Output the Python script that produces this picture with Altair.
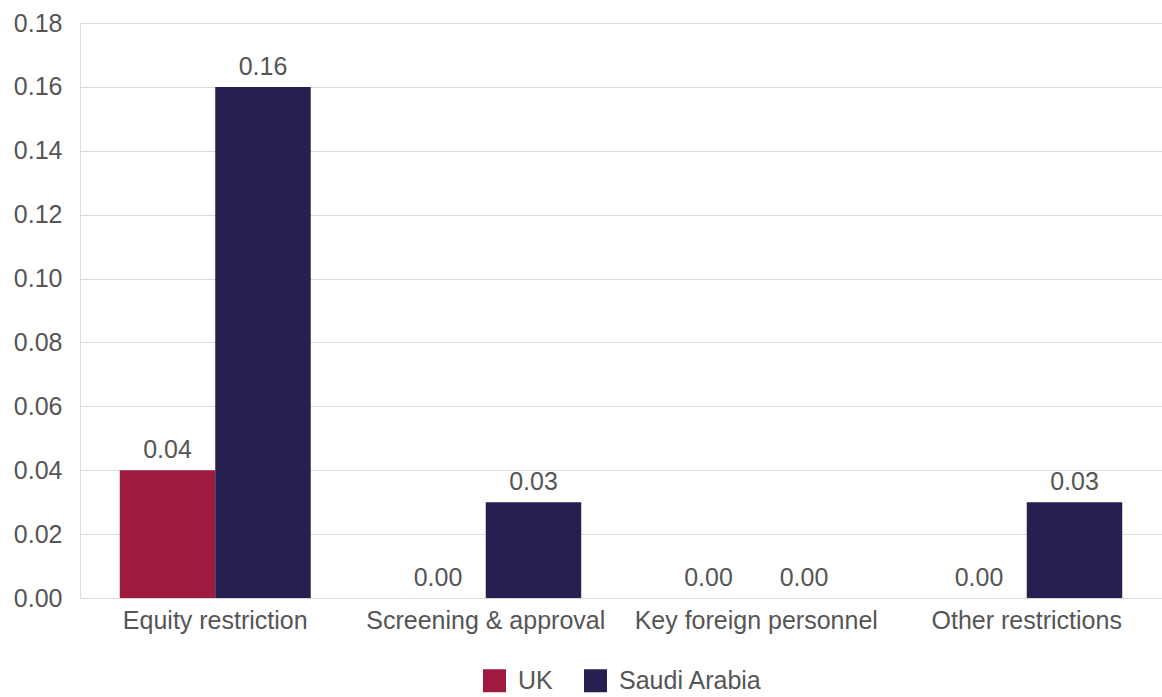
import altair as alt
import pandas as pd

categories = ["Equity restriction", "Screening & approval", "Key foreign personnel", "Other restrictions"]
series = ["UK", "Saudi Arabia"]
uk_values = [0.04, 0.00, 0.00, 0.00]
saudi_values = [0.16, 0.03, 0.00, 0.03]
colors = ["#9E1B3F", "#261F50"]

rows = []
for i, cat in enumerate(categories):
    rows.append({"category": cat, "country": "UK", "value": uk_values[i]})
    rows.append({"category": cat, "country": "Saudi Arabia", "value": saudi_values[i]})
df = pd.DataFrame(rows)

FONT = "Liberation Sans"
TEXT = "#555555"
FS = 25

x_enc = alt.X(
    "category:N",
    sort=categories,
    title=None,
    scale=alt.Scale(paddingInner=0.294, paddingOuter=0.147),
    axis=alt.Axis(labelAngle=0, labelFontSize=FS, labelColor=TEXT, labelFont=FONT,
                  ticks=False, domain=False, labelPadding=10, labelLimit=400),
)
x_off = alt.XOffset("country:N", sort=series)
y_enc = alt.Y(
    "value:Q",
    title=None,
    scale=alt.Scale(domain=[0, 0.18], nice=False),
    axis=alt.Axis(values=[0, 0.02, 0.04, 0.06, 0.08, 0.10, 0.12, 0.14, 0.16, 0.18],
                  format=".2f", labelFontSize=FS, labelColor=TEXT, labelFont=FONT,
                  ticks=False, domain=False, labelPadding=18,
                  gridColor="#D9D9D9", gridWidth=1.2),
)

bars = alt.Chart(df).mark_bar().encode(
    x=x_enc,
    xOffset=x_off,
    y=y_enc,
    color=alt.Color(
        "country:N",
        sort=series,
        scale=alt.Scale(domain=series, range=colors),
        legend=alt.Legend(title=None, orient="none", legendX=402, legendY=645,
                          direction="horizontal",
                          symbolType="square", symbolSize=529, symbolStrokeWidth=0,
                          labelFontSize=FS, labelColor=TEXT, labelFont=FONT,
                          labelOffset=11, columnPadding=30),
    ),
)

labels = alt.Chart(df).mark_text(
    baseline="alphabetic", dy=-12, fontSize=FS, color=TEXT, font=FONT
).encode(
    x=alt.X("category:N", sort=categories),
    xOffset=x_off,
    y="value:Q",
    text=alt.Text("value:Q", format=".2f"),
)

chart = (
    alt.layer(bars, labels)
    .properties(
        width=1082,
        height=575,
        autosize=alt.AutoSizeParams(type="none"),
        padding={"left": 80, "top": 23, "right": 0, "bottom": 99},
    )
    .configure_view(stroke=None)
    .configure(background="white")
)

chart.save("out.html", embed_options={"renderer": "svg", "actions": False})
